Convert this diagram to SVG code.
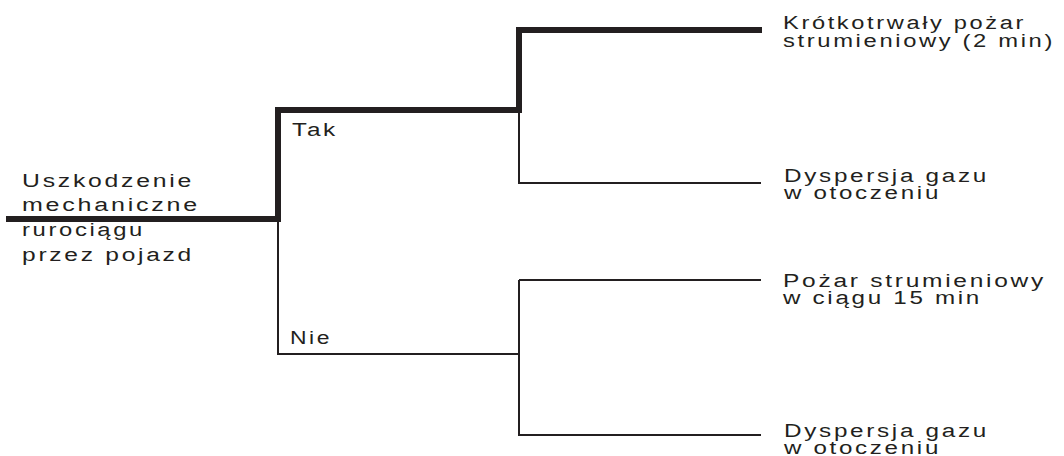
<svg xmlns="http://www.w3.org/2000/svg" width="1064" height="456" viewBox="0 0 1064 456">
<style>
text{font-family:"Liberation Sans",Arial,sans-serif;font-size:18px;fill:#231f20;letter-spacing:2px}
.thick{fill:none;stroke:#231f20;stroke-width:6;stroke-linejoin:miter;stroke-linecap:butt}
.thin{fill:none;stroke:#231f20;stroke-width:2;stroke-linecap:butt}
</style>
<rect width="1064" height="456" fill="#fff"/>
<g id="connectors">
<path class="thin" d="M278,219 V354 H519"/>
<path class="thin" d="M519,110 V183 H761"/>
<path class="thin" d="M519,280 V435 H761"/>
<path class="thin" d="M519,280 H761"/>
<path class="thick" d="M6,219 H278 V110 H519 V30 H762"/>
</g>
<g id="root">
<text x="22" y="187" textLength="172" lengthAdjust="spacingAndGlyphs">Uszkodzenie</text>
<text x="22" y="211" textLength="178" lengthAdjust="spacingAndGlyphs">mechaniczne</text>
<text x="22" y="236" textLength="123" lengthAdjust="spacingAndGlyphs">rurociągu</text>
<text x="22" y="261" textLength="172" lengthAdjust="spacingAndGlyphs">przez pojazd</text>
</g>
<g id="label-tak"><text x="292" y="136" textLength="46" lengthAdjust="spacingAndGlyphs">Tak</text></g>
<g id="label-nie"><text x="290" y="344" textLength="42" lengthAdjust="spacingAndGlyphs">Nie</text></g>
<g id="outcome1">
<text x="783" y="29" textLength="243" lengthAdjust="spacingAndGlyphs">Krótkotrwały pożar</text>
<text x="783" y="47" textLength="272" lengthAdjust="spacingAndGlyphs">strumieniowy (2 min)</text>
</g>
<g id="outcome2">
<text x="784" y="182" textLength="205" lengthAdjust="spacingAndGlyphs">Dyspersja gazu</text>
<text x="784" y="199" textLength="157" lengthAdjust="spacingAndGlyphs">w otoczeniu</text>
</g>
<g id="outcome3">
<text x="783" y="287" textLength="263" lengthAdjust="spacingAndGlyphs">Pożar strumieniowy</text>
<text x="783" y="304" textLength="199" lengthAdjust="spacingAndGlyphs">w ciągu 15 min</text>
</g>
<g id="outcome4">
<text x="784" y="437" textLength="205" lengthAdjust="spacingAndGlyphs">Dyspersja gazu</text>
<text x="784" y="454" textLength="157" lengthAdjust="spacingAndGlyphs">w otoczeniu</text>
</g>
</svg>
